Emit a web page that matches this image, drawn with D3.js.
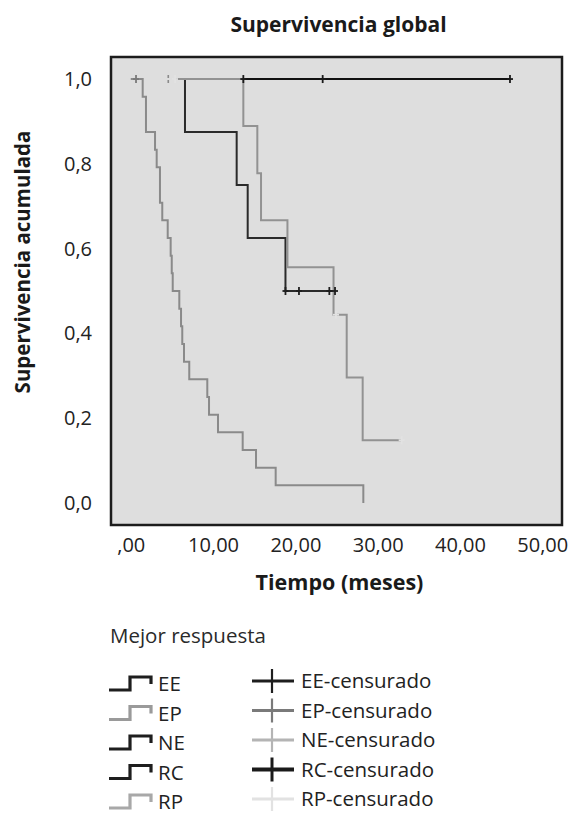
<!DOCTYPE html>
<html>
<head>
<meta charset="utf-8">
<script src="https://cdn.jsdelivr.net/npm/d3@7"></script>
<style>
  html, body { margin: 0; padding: 0; background: #fff; }
  svg { display: block; font-family: "Open Sans", "Noto Sans", sans-serif; }
</style>
</head>
<body>
<svg id="chart" width="574" height="816"></svg>
<script>
// ---------------- data ----------------
const title = "Supervivencia global";
const xTitle = "Tiempo (meses)";
const yTitle = "Supervivencia acumulada";
const legendTitle = "Mejor respuesta";
const groups = ["EE", "EP", "NE", "RC", "RP"];
const xTicks = [0, 10, 20, 30, 40, 50];
const yTicks = [0, 0.2, 0.4, 0.6, 0.8, 1.0];

// EP: many early events
const epStart = 0;
const epTimes = [1.45, 1.85, 2.95, 3.15, 3.55, 3.83, 4.49, 4.85, 4.98, 5.10, 5.90, 6.11, 6.26, 6.47, 7.11, 9.30, 9.51, 10.60, 13.60, 15.22, 17.61, 28.26];
const epSurv  = [0.958, 0.875, 0.833, 0.792, 0.708, 0.667, 0.625, 0.583, 0.542, 0.500, 0.458, 0.417, 0.375, 0.333, 0.292, 0.250, 0.208, 0.167, 0.125, 0.083, 0.042, 0.0];
const epEnd = 28.26;
const epCensor = [0.64];

// EE
const eeStart = 6.59;
const eeTimes = [6.59, 12.87, 14.21, 18.80];
const eeSurv  = [0.875, 0.750, 0.625, 0.500];
const eeEnd = 24.82;
const eeCensor = [18.80, 20.44, 24.13, 24.82];

// RC: all censored
const rcStart = 13.68;
const rcTimes = [];
const rcSurv = [];
const rcEnd = 46.08;
const rcCensor = [13.68, 23.32, 46.08];

// RP
const rpStart = 5.38;
const rpTimes = [13.68, 15.38, 15.83, 19.04, 24.64, 26.24, 28.18];
const rpSurv  = [0.889, 0.778, 0.667, 0.556, 0.444, 0.296, 0.148];
const rpEnd = 32.92;
const rpCensor = [5.38, 24.94, 32.92];

// NE: censored only
const neCensor = [4.56];

// ---------------- styles ----------------
const lineColor = { EE: "#2a2a2a", EP: "#8a8a8a", NE: "#262626", RC: "#111111", RP: "#929292" };
const legLineColor = { EE: "#1e1e1e", EP: "#9a9a9a", NE: "#1e1e1e", RC: "#1e1e1e", RP: "#a8a8a8" };
const censColor = { EE: "#1e1e1e", EP: "#7a7a7a", NE: "#b4b4b4", RC: "#1a1a1a", RP: "#e2e2e2" };

const svg = d3.select("#chart");
const pL = 111, pR = 562, pT = 57, pB = 525;

const x = d3.scaleLinear().domain([-2.4, 52.4]).range([pL, pR]);
const y = d3.scaleLinear().domain([-0.052, 1.052]).range([pB, pT]);

// plot background
svg.append("rect").attr("x", pL).attr("y", pT)
  .attr("width", pR - pL).attr("height", pB - pT)
  .attr("fill", "#dedede");

// axes (labels only)
const fmtX = d => d === 0 ? ",00" : d3.format(".2f")(d).replace(".", ",");
const fmtY = d => d3.format(".1f")(d).replace(".", ",");

const gx = svg.append("g").attr("transform", `translate(0,${pB})`)
  .call(d3.axisBottom(x).tickValues(xTicks).tickFormat(fmtX).tickSize(0).tickPadding(13));
const gy = svg.append("g").attr("transform", `translate(${pL},0)`)
  .call(d3.axisLeft(y).tickValues(yTicks).tickFormat(fmtY).tickSize(0).tickPadding(19));
[gx, gy].forEach(g => {
  g.select(".domain").remove();
  g.selectAll("text").attr("font-size", 20).attr("fill", "#222")
    .attr("font-family", "'Open Sans', sans-serif");
});

// curves
const line = d3.line().x(d => x(d[0])).y(d => y(d[1])).curve(d3.curveStepAfter);
function pts(start, times, surv, end) {
  const p = [[start, 1]];
  times.forEach((t, i) => p.push([t, surv[i]]));
  const last = surv.length ? surv[surv.length - 1] : 1;
  p.push([end, last]);
  return p;
}
function survAt(times, surv, t) {
  let s = 1;
  times.forEach((tt, i) => { if (tt <= t) s = surv[i]; });
  return s;
}
const curves = [
  { g: "RC", start: rcStart, times: rcTimes, surv: rcSurv, end: rcEnd, cens: rcCensor, w: 2 },
  { g: "EE", start: eeStart, times: eeTimes, surv: eeSurv, end: eeEnd, cens: eeCensor, w: 2 },
  { g: "RP", start: rpStart, times: rpTimes, surv: rpSurv, end: rpEnd, cens: rpCensor, w: 2 },
  { g: "EP", start: epStart, times: epTimes, surv: epSurv, end: epEnd, cens: epCensor, w: 2 }
];
const plot = svg.append("g");
curves.forEach(c => {
  plot.append("path").datum(pts(c.start, c.times, c.surv, c.end))
    .attr("d", line).attr("fill", "none")
    .attr("stroke", lineColor[c.g]).attr("stroke-width", c.w);
});
// censor marks
function censor(gSel, cx, cy, color, h, arm, w) {
  gSel.append("line").attr("x1", cx - arm).attr("x2", cx + arm).attr("y1", cy).attr("y2", cy)
    .attr("stroke", color).attr("stroke-width", w);
  gSel.append("line").attr("x1", cx).attr("x2", cx).attr("y1", cy - h).attr("y2", cy + h)
    .attr("stroke", color).attr("stroke-width", w);
}
curves.forEach(c => {
  c.cens.forEach(t => censor(plot, x(t), y(survAt(c.times, c.surv, t)), censColor[c.g], 4, 3, 1.8));
});
neCensor.forEach(t => {
  plot.append("line").attr("x1", x(t)).attr("x2", x(t)).attr("y1", y(1) - 4).attr("y2", y(1) + 4)
    .attr("stroke", "#8a8a8a").attr("stroke-width", 1.6).attr("stroke-dasharray", "3,2");
});

// frame
svg.append("rect").attr("x", pL).attr("y", pT)
  .attr("width", pR - pL).attr("height", pB - pT)
  .attr("fill", "none").attr("stroke", "#1c1c1c").attr("stroke-width", 2.5);

// titles
svg.append("text").attr("x", (pL + pR) / 2 + 2).attr("y", 32)
  .attr("text-anchor", "middle").attr("font-size", 21).attr("font-weight", "bold")
  .attr("fill", "#1a1a1a").text(title);
svg.append("text").attr("x", (pL + pR) / 2 + 3).attr("y", 590)
  .attr("text-anchor", "middle").attr("font-size", 21.5).attr("font-weight", "bold")
  .attr("fill", "#1a1a1a").text(xTitle);
svg.append("text").attr("transform", "translate(30,262) rotate(-90)")
  .attr("text-anchor", "middle").attr("font-size", 20.5).attr("font-weight", "bold")
  .attr("fill", "#1a1a1a").text(yTitle);

// legend
svg.append("text").attr("x", 110).attr("y", 643).attr("font-size", 20.5)
  .attr("fill", "#2a2a2a").text(legendTitle);

const leg = svg.append("g");
groups.forEach((g, i) => {
  const cy = 684 + i * 29.5;
  leg.append("path")
    .attr("d", `M109,${cy + 6}H130V${cy - 7}H151V${cy}`)
    .attr("fill", "none").attr("stroke", legLineColor[g]).attr("stroke-width", 3.2);
  leg.append("text").attr("x", 158).attr("y", cy + 7).attr("font-size", 20.5)
    .attr("fill", "#222").text(g);

  const cy2 = 681 + i * 29.5;
  const cg = leg.append("g");
  cg.append("line").attr("x1", 252).attr("x2", 294).attr("y1", cy2).attr("y2", cy2)
    .attr("stroke", censColor[g]).attr("stroke-width", g === "RC" ? 4 : 3);
  cg.append("line").attr("x1", 272).attr("x2", 272).attr("y1", cy2 - 12).attr("y2", cy2 + 12)
    .attr("stroke", censColor[g]).attr("stroke-width", g === "RC" ? 3 : 2.2);
  leg.append("text").attr("x", 301).attr("y", cy2 + 7).attr("font-size", 20.5)
    .attr("fill", "#222").text(g + "-censurado");
});
</script>
</body>
</html>
